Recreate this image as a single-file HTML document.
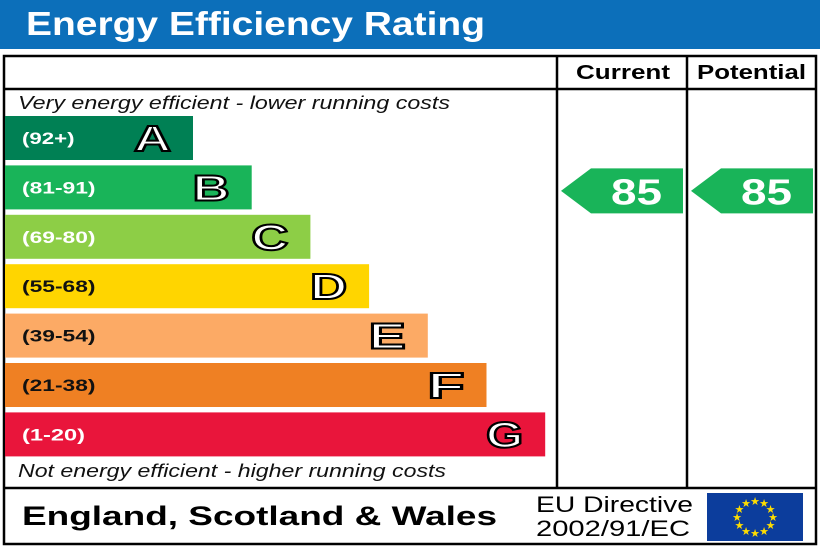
<!DOCTYPE html>
<html><head><meta charset="utf-8"><style>
html,body{margin:0;padding:0;background:#fff;}
svg{display:block;font-family:"Liberation Sans",Arial,sans-serif;}
</style></head><body>
<svg id="c" width="820" height="547" viewBox="0 0 820 547" xmlns="http://www.w3.org/2000/svg">
<rect x="0" y="0" width="820" height="49" fill="#0c6fba"/>
<text x="26" y="35" font-size="33" font-weight="bold" fill="#fff" textLength="459" lengthAdjust="spacingAndGlyphs">Energy Efficiency Rating</text>
<rect x="4" y="56" width="812" height="488" fill="none" stroke="#000" stroke-width="2.5"/>
<line x1="4" y1="89" x2="816" y2="89" stroke="#000" stroke-width="2.5"/>
<line x1="557" y1="56" x2="557" y2="488" stroke="#000" stroke-width="2.5"/>
<line x1="687" y1="56" x2="687" y2="488" stroke="#000" stroke-width="2.5"/>
<line x1="4" y1="488" x2="816" y2="488" stroke="#000" stroke-width="2.5"/>
<text x="576" y="79" font-size="20" font-weight="bold" textLength="94" lengthAdjust="spacingAndGlyphs">Current</text>
<text x="697" y="79" font-size="20" font-weight="bold" textLength="109" lengthAdjust="spacingAndGlyphs">Potential</text>
<text x="18" y="109" font-size="18" font-style="italic" fill="#111" textLength="432" lengthAdjust="spacingAndGlyphs">Very energy efficient - lower running costs</text>
<text x="18" y="477" font-size="18" font-style="italic" fill="#111" textLength="428" lengthAdjust="spacingAndGlyphs">Not energy efficient - higher running costs</text>
<g id="bands"></g>
<g id="arrows"></g>
<text x="22" y="525" font-size="27" font-weight="bold" textLength="475" lengthAdjust="spacingAndGlyphs">England, Scotland &amp; Wales</text>
<text x="536" y="512" font-size="22" textLength="157" lengthAdjust="spacingAndGlyphs">EU Directive</text>
<text x="536" y="536" font-size="22" textLength="154" lengthAdjust="spacingAndGlyphs">2002/91/EC</text>
<rect x="707" y="493" width="96" height="48" fill="#0c3d9c"/>
<g id="stars"></g>
</svg>
<script>
const letters=["A","B","C","D","E","F","G"];
const ranges=["(92+)","(81-91)","(69-80)","(55-68)","(39-54)","(21-38)","(1-20)"];
const mins=[92,81,69,55,39,21,1];
const colors=["#008054","#19b459","#8dce46","#ffd500","#fcaa65","#ef8023","#e9153b"];
const currentValue=85;
const potentialValue=85;
const NS="http://www.w3.org/2000/svg";
function mk(t,a,p){const e=document.createElementNS(NS,t);for(const k in a)e.setAttribute(k,a[k]);p.appendChild(e);return e;}
const bandY=i=>116+i*49.4, bandH=44, bandW=i=>188+i*58.7;
const bg=document.getElementById('bands');
letters.forEach((L,i)=>{
 const r=mk('rect',{x:5,y:bandY(i),width:bandW(i),height:bandH,fill:colors[i]},bg);
 
 
 const t=mk('text',{x:22,y:bandY(i)+28,'font-size':17,'font-weight':'bold',fill:(i<3||i==6)?'#fff':'#111',textLength:ranges[i].length*10.5,lengthAdjust:'spacingAndGlyphs'},bg);
 t.textContent=ranges[i];
 
 
 const l=mk('text',{x:5+bandW(i)-59,y:bandY(i)+35,'font-size':36,'font-weight':'bold',fill:'#fff',stroke:'#000','stroke-width':2,textLength:37,lengthAdjust:'spacingAndGlyphs'},bg);
 l.textContent=L;
 
 
});
function bandIndex(v){for(let i=0;i<mins.length;i++)if(v>=mins[i])return i;return 6;}
const ag=document.getElementById('arrows');
[[currentValue,561,'current'],[potentialValue,691,'potential']].forEach(([v,x0,n])=>{
 const i=bandIndex(v), y=bandY(i)+3, h=45, w=122;
 const p=mk('polygon',{points:`${x0},${y+h/2} ${x0+30},${y} ${x0+w},${y} ${x0+w},${y+h} ${x0+30},${y+h}`,fill:colors[i]},ag);
 
 
 const t=mk('text',{x:x0+50,y:y+36,'font-size':36,'font-weight':'bold',fill:'#fff',textLength:51,lengthAdjust:'spacingAndGlyphs'},ag);
 t.textContent=v;
 
 
});
const sg=document.getElementById('stars');
for(let k=0;k<12;k++){const a=k*Math.PI/6;const s=mk('text',{x:755+18*Math.sin(a),y:517-16*Math.cos(a)+4,'font-size':11,fill:'#ffdd00','text-anchor':'middle'},sg);s.textContent='★';
 
 }
</script>
</body></html>
